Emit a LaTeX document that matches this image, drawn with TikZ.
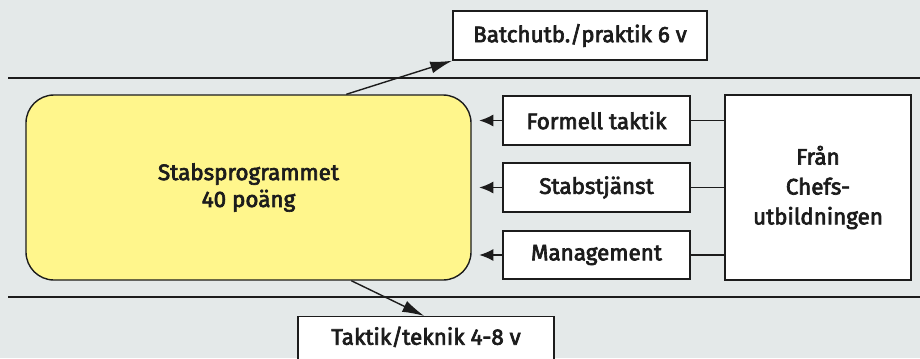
\documentclass[tikz,border=0pt]{standalone}
\usepackage{fontspec}
\setmainfont{Fira Sans}
\newfontfamily\lblfont{Fira Sans}[FakeBold=3]
\usetikzlibrary{calc,arrows.meta}
\definecolor{bgcol}{HTML}{E4E9E9}
\definecolor{stabyellow}{HTML}{FFF68C}
\definecolor{ink}{HTML}{1C1C1C}
\tikzset{
  txt/.style={font=\lblfont\fontsize{22.5}{27}\selectfont, text=ink},
  boxed/.style={txt, draw=ink, line width=1.4bp, fill=white, inner sep=0pt, align=center},
  rule/.style={draw=ink, line width=1.4bp},
  feed/.style={draw=ink, line width=1.4bp, -{Latex[length=14bp,width=12bp]}},
  diag/.style={draw=ink, line width=1.4bp, -{Latex[length=22bp,width=12bp]}},
  link/.style={draw=ink, line width=1.4bp}
}
\begin{document}
\begin{tikzpicture}[x=1bp,y=-1bp]
  % canvas
  \fill[bgcol] (0,0) rectangle (920,358);
  \useasboundingbox (0,0) rectangle (920,358);
  \clip (0,0) rectangle (920,358);

  % horizontal band rules
  \coordinate (ruleTopL) at (8,78);
  \coordinate (ruleTopR) at (920,78);
  \coordinate (ruleBotL) at (8,297);
  \coordinate (ruleBotR) at (920,297);
  \draw[rule] (ruleTopL) -- (ruleTopR);
  \draw[rule] (ruleBotL) -- (ruleBotR);

  % central programme block
  \node[txt, draw=ink, line width=1.4bp, fill=stabyellow, rounded corners=28bp,
        minimum width=445bp, minimum height=185bp, align=center]
        (stab) at (248.5,187.5) {Stabsprogrammet\\40 poäng};

  % external courses
  \node[boxed, minimum width=254bp, minimum height=49bp] (batch) at (580,35.5) {Batchutb./praktik 6 v};
  \node[boxed, anchor=north, minimum width=256bp, text height=28bp, text depth=30bp]
        (taktik) at (426,316) {Taktik/teknik 4-8 v};

  % components from the chef training
  \node[boxed, minimum width=187bp, minimum height=49bp] (formell) at (596.5,120.5) {Formell taktik};
  \node[boxed, minimum width=187bp, minimum height=49bp] (stabstj) at (596.5,187.5) {Stabstjänst};
  \node[boxed, minimum width=187bp, minimum height=48bp] (mgmt) at (596.5,255) {Management};
  \node[boxed, font=\lblfont\fontsize{22.5}{30}\selectfont, minimum width=186bp, minimum height=185bp]
        (fran) at (818,187.5) {Från\\Chefs-\\utbildningen};

  % links to the source box
  \draw[link] (formell.east) -- (formell.east -| fran.west);
  \draw[link] (stabstj.east) -- (stabstj.east -| fran.west);
  \draw[link] (mgmt.east) -- (mgmt.east -| fran.west);

  % feeds into the programme
  \draw[feed] (formell.west) -- ++(-23,0);
  \draw[feed] (stabstj.west) -- ++(-23,0);
  \draw[feed] (mgmt.west) -- ++(-23,0);

  % outgoing periods
  \draw[diag] ($(stab.north west)+(321,0)$) -- (batch.south west);
  \draw[diag] ($(stab.south west)+(326,0)$) -- ($(taktik.north west)+(127,0)$);
\end{tikzpicture}
\end{document}
